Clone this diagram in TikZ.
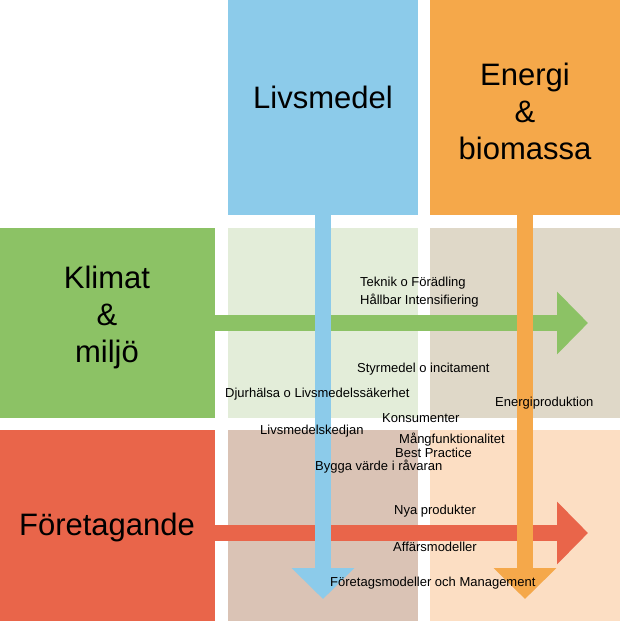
\documentclass[tikz,border=0pt]{standalone}
\usepackage{fontspec}
\setmainfont{Liberation Sans}
\usetikzlibrary{arrows.meta}
\definecolor{livblue}{HTML}{8CCBEA}
\definecolor{enorange}{HTML}{F5A84A}
\definecolor{kligreen}{HTML}{8CC265}
\definecolor{forred}{HTML}{E9654A}
\definecolor{lightgreen}{HTML}{E3EDD9}
\definecolor{lightbeige}{HTML}{DFD8C8}
\definecolor{lightbrown}{HTML}{DAC3B5}
\definecolor{lightpeach}{HTML}{FCDEC3}
\tikzset{
  cell/.style={inner sep=0pt, outer sep=0pt, minimum width=190pt, minimum height=190pt},
  bigtext/.style={font=\fontsize{31}{35}\selectfont, align=center},
  topic/.style={anchor=west, font=\fontsize{13}{15}\selectfont, inner sep=0pt},
  bigarrow/.style={line width=16pt, -{Triangle[width=61pt,length=31pt]}}
}
\begin{document}
\begin{tikzpicture}[x=1pt, y=-1pt]
\useasboundingbox (0,0) rectangle (620,621);
% header and row blocks
\node[cell, fill=livblue, minimum height=215pt] (liv) at (323,107.5) {};
\node[cell, fill=enorange, minimum height=215pt] (energi) at (525,107.5) {};
\node[cell, fill=kligreen, minimum width=215pt] (klimat) at (107.5,323) {};
\node[cell, fill=forred, minimum width=215pt, minimum height=191pt] (foretag) at (107.5,525.5) {};
% light cells
\node[cell, fill=lightgreen] (c11) at (323,323) {};
\node[cell, fill=lightbeige] (c12) at (525,323) {};
\node[cell, fill=lightbrown, minimum height=191pt] (c21) at (323,525.5) {};
\node[cell, fill=lightpeach, minimum height=191pt] (c22) at (525,525.5) {};
\node[bigtext] at (323,97) {Livsmedel};
\node[bigtext] at (525,111) {Energi\\[2pt]\&\\[2pt]biomassa};
\node[bigtext] at (107,317) {Klimat\\[2pt]\&\\[2pt]miljö};
\node[bigtext] at (107,527) {Företagande};
% arrows
\coordinate (gend) at (588,323);
\coordinate (rend) at (588,533);
\coordinate (bend) at (323,599);
\coordinate (oend) at (525,599);
\draw[bigarrow, kligreen] (klimat.east) -- (gend);
\draw[bigarrow, forred] (215,533) -- (rend);
\draw[bigarrow, livblue] (liv.south) -- (bend);
\draw[bigarrow, enorange] (energi.south) -- (oend);
% topics
\node[topic] at (360,283) {Teknik o Förädling};
\node[topic] at (360,301) {Hållbar Intensifiering};
\node[topic] at (357,369) {Styrmedel o incitament};
\node[topic] at (225,394) {Djurhälsa o Livsmedelssäkerhet};
\node[topic] at (495,403) {Energiproduktion};
\node[topic] at (382,418) {Konsumenter};
\node[topic] at (260,431) {Livsmedelskedjan};
\node[topic] at (399,440) {Mångfunktionalitet};
\node[topic] at (395,453) {Best Practice};
\node[topic] at (315,467) {Bygga värde i råvaran};
\node[topic] at (394,511) {Nya produkter};
\node[topic] at (393,547) {Affärsmodeller};
\node[topic] at (330,583) {Företagsmodeller och Management};
\end{tikzpicture}
\end{document}
